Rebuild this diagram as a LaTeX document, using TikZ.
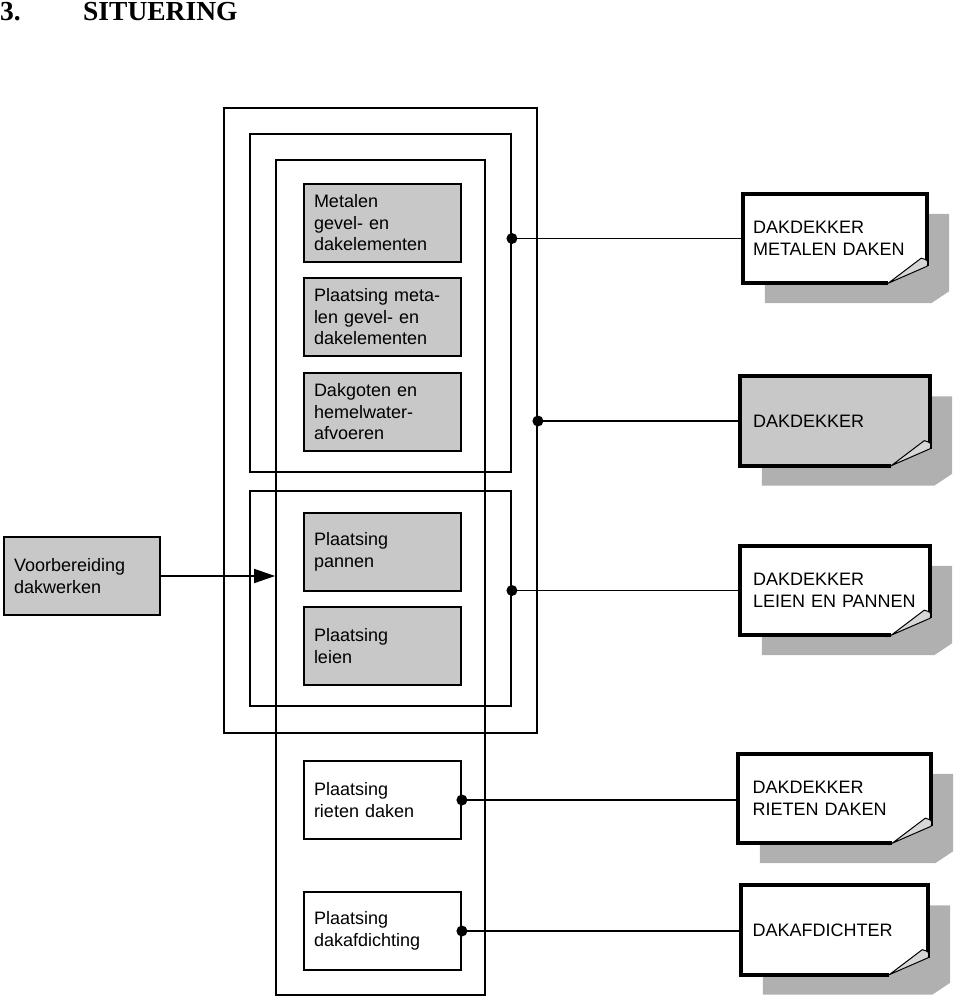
\documentclass[tikz,border=0pt]{standalone}
\usepackage{fontspec}
\setmainfont{Liberation Sans}
\newfontfamily\titlefont{Liberation Serif}
\usetikzlibrary{arrows.meta,backgrounds}
\definecolor{boxgray}{RGB}{200,200,200}
\definecolor{shadowgray}{RGB}{176,176,176}
\definecolor{flapgray}{RGB}{215,215,215}
\tikzset{
    frame/.style={draw, line width=1.8pt},
    task/.style={draw, line width=1.8pt, minimum width=157pt, minimum height=78pt,
        text width=137pt, inner sep=10pt, align=left, font=\fontsize{18}{21.5}\selectfont},
    gtask/.style={task, fill=boxgray},
    doctext/.style={minimum height=89pt, text width=164pt, inner sep=10pt, align=left,
        font=\fontsize{18}{21.5}\selectfont},
    docline/.style={line width=4pt, line join=miter},
    link/.style={line width=1.8pt},
    dot/.style={circle, fill, inner sep=0pt, minimum size=11pt},
}
% name, position, width, fill, text
\newcommand{\dakdoc}[5]{%
    \node[doctext, minimum width=#3] (#1) at #2 {#5};
    \begin{scope}[on background layer]
        \fill[shadowgray] ([shift={(22,20)}]#1.north west) -- ([shift={(22,20)}]#1.north east)
            -- ([shift={(22,8)}]#1.south east) -- ([shift={(4,20)}]#1.south east)
            -- ([shift={(22,20)}]#1.south west) -- cycle;
        \fill[#4] (#1.north west) -- (#1.north east) -- ([shift={(0,-17)}]#1.south east)
            -- ([shift={(-39,0)}]#1.south east) -- (#1.south west) -- cycle;
        \draw[docline] ([shift={(-39,0)}]#1.south east) -- (#1.south west) -- (#1.north west)
            -- (#1.north east) -- ([shift={(0,-17)}]#1.south east);
    \end{scope}
    \draw[fill=flapgray, line width=1pt] ([shift={(-39,0)}]#1.south east)
        -- ([shift={(-6,-25)}]#1.south east)
        .. controls ([shift={(1,-23)}]#1.south east) .. ([shift={(0,-17)}]#1.south east) -- cycle;
}
\begin{document}
\begin{tikzpicture}[x=1pt, y=-1pt]
    \useasboundingbox (0,0) rectangle (960,1004);
    % title
    \node[anchor=base west, inner sep=0, font=\titlefont\bfseries\fontsize{27.5}{30}\selectfont] (num) at (0,20) {3.};
    \node[anchor=base west, inner sep=0, font=\titlefont\bfseries\fontsize{27.5}{30}\selectfont] (title) at (83,20) {SITUERING};

    % frames
    \node[frame, minimum width=313pt, minimum height=625pt] (outer) at (380.5,420.5) {};
    \node[frame, minimum width=261pt, minimum height=338pt] (metalgrp) at (380.5,303) {};
    \node[frame, minimum width=209pt, minimum height=835pt] (tall) at (380.5,577.5) {};
    \node[frame, minimum width=261pt, minimum height=215pt] (leigrp) at (380.5,598.5) {};

    % tasks
    \node[gtask] (metaal) at (382.5,223) {Metalen\\gevel- en\\dakelementen};
    \node[gtask] (plmetaal) at (382.5,317) {Plaatsing meta-\\len gevel- en\\dakelementen};
    \node[gtask] (goten) at (382.5,412) {Dakgoten en\\hemelwater-\\afvoeren};
    \node[gtask] (pannen) at (382.5,552) {Plaatsing\\pannen};
    \node[gtask] (leien) at (382.5,646) {Plaatsing\\leien};
    \node[task] (riet) at (382.5,800) {Plaatsing\\rieten daken};
    \node[task] (afdicht) at (382.5,931) {Plaatsing\\dakafdichting};

    \node[gtask, minimum width=156pt, text width=136pt] (prep) at (82,576) {Voorbereiding\\dakwerken};

    % documents
    \dakdoc{mdak}{(835,238.5)}{184pt}{white}{DAKDEKKER\\METALEN DAKEN}
    \dakdoc{dak}{(835,421)}{190pt}{boxgray}{DAKDEKKER}
    \dakdoc{lpdak}{(835,590.5)}{190pt}{white}{DAKDEKKER\\LEIEN EN PANNEN}
    \dakdoc{rdak}{(834.5,798.5)}{193pt}{white}{DAKDEKKER\\RIETEN DAKEN}
    \dakdoc{afd}{(834.5,930)}{187pt}{white}{DAKAFDICHTER}

    % connectors
    \draw[link, -{Triangle[length=21pt, width=14pt]}] (prep.east) -- (prep.east -| tall.west);
    \draw[link] (metalgrp.east |- mdak.west) node[dot] (d1) {} -- (mdak.west);
    \draw[link] (outer.east |- dak.west) node[dot] (d2) {} -- (dak.west);
    \draw[link] (leigrp.east |- lpdak.west) node[dot] (d3) {} -- (lpdak.west);
    \draw[link] (riet.east) node[dot] (d4) {} -- (riet.east -| rdak.west);
    \draw[link] (afdicht.east) node[dot] (d5) {} -- (afdicht.east -| afd.west);
\end{tikzpicture}
\end{document}
